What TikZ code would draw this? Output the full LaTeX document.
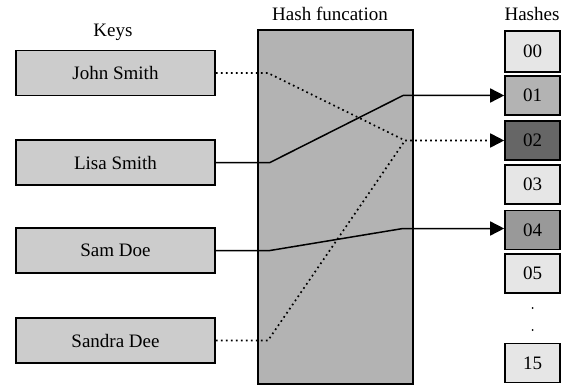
\documentclass[tikz,border=0pt]{standalone}
\usepackage{fontspec}
\setmainfont{Liberation Serif}
\usetikzlibrary{arrows.meta}

\definecolor{keygray}{HTML}{CCCCCC}
\definecolor{fungray}{HTML}{B3B3B3}
\definecolor{lightcell}{HTML}{E6E6E6}
\definecolor{midcell}{HTML}{B3B3B3}
\definecolor{darkcell}{HTML}{666666}
\definecolor{greycell}{HTML}{999999}

\tikzset{
  keybox/.style={draw, line width=1.6pt, fill=keygray, minimum width=199pt,
    minimum height=45pt, inner sep=0pt},
  cell/.style={draw, line width=1.6pt, fill=lightcell, minimum width=55pt,
    minimum height=39pt, inner sep=0pt},
  title/.style={inner sep=0pt},
  link/.style={line width=1.5pt, line join=round},
  dotlink/.style={link, line width=1.7pt, dash pattern=on 1.7pt off 3.3pt},
  tip/.style={-{Triangle[length=14pt,width=14pt]}}
}

\begin{document}
\begin{tikzpicture}[x=1pt, y=-1pt, font=\fontsize{19}{22}\selectfont]
  \useasboundingbox (0,0) rectangle (564,385);

  % Titles
  \node[title] (keys) at (113,32) {Keys};
  \node[title] (fun) at (330,14) {Hash funcation};
  \node[title] (hashes) at (532,14) {Hashes};

  % Hash function block
  \node[draw, line width=1.6pt, fill=fungray, minimum width=155pt,
    minimum height=354pt, inner sep=0pt] (hash) at (335.5,207) {};

  % Keys
  \node[keybox] (john) at (115.5,73) {John Smith};
  \node[keybox] (lisa) at (115.5,162.5) {Lisa Smith};
  \node[keybox] (sam) at (115.5,250.5) {Sam Doe};
  \node[keybox] (sandra) at (115.5,340.5) {Sandra Dee};

  % Hash table
  \node[cell, minimum height=41pt] (h00) at (532.5,51.5) {00};
  \node[cell, fill=midcell] (h01) at (532.5,95.5) {01};
  \node[cell, fill=darkcell] (h02) at (532.5,140.5) {02};
  \node[cell] (h03) at (532.5,184.5) {03};
  \node[cell, fill=greycell] (h04) at (532.5,230) {04};
  \node[cell] (h05) at (532.5,273.5) {05};
  \fill (532.5,308) circle (1pt);
  \fill (532.5,330) circle (1pt);
  \node[cell] (h15) at (532.5,363) {15};

  % Bend points inside the block
  \coordinate (j1) at (268,73);
  \coordinate (l1) at (270,162.5);
  \coordinate (s1) at (270,250.5);
  \coordinate (d1) at (268,340.5);
  \coordinate (o1) at (403,95.5);
  \coordinate (o2) at (405,140.5);
  \coordinate (o4) at (403,228.5);

  % Mappings
  \draw[dotlink, tip] (john.east) -- (j1) -- (o2) -- (h02.west);
  \draw[link, tip] (lisa.east) -- (l1) -- (o1) -- (h01.west);
  \draw[link, tip] (sam.east) -- (s1) -- (o4) -- (h04.west |- o4);
  \draw[dotlink] (sandra.east) -- (d1) -- (o2);
\end{tikzpicture}
\end{document}
